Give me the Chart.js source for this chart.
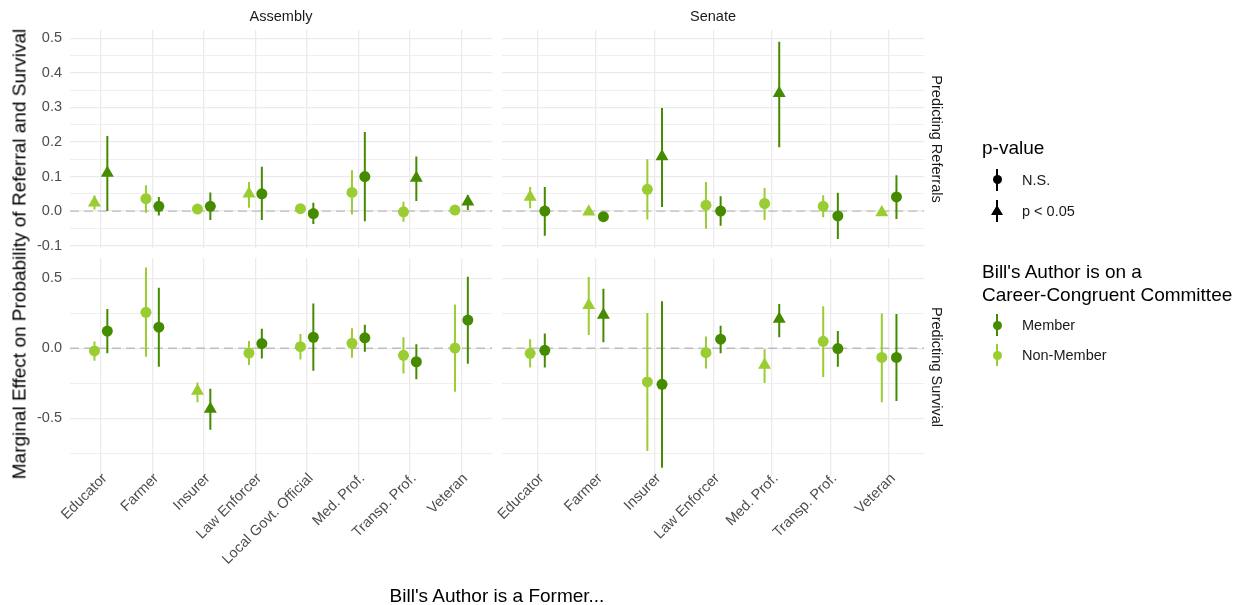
<!DOCTYPE html>
<html>
<head>
<meta charset="utf-8">
<script src="https://cdn.jsdelivr.net/npm/chart.js@4.4.1/dist/chart.umd.min.js"></script>
<style>
  html, body { margin: 0; padding: 0; background: #ffffff; }
  #wrap { position: relative; width: 1233px; height: 605px; overflow: hidden;
          font-family: "Liberation Sans", Arial, sans-serif; }
  #wrap canvas { position: absolute; left: 0; top: 0; }
  .t { position: absolute; white-space: nowrap; line-height: 1; }
  .c { transform: translate(-50%, -50%); }
  .strip { font-size: 14.5px; color: #1a1a1a; }
  .title { font-size: 19px; color: #000000; }
  .lab { font-size: 14.5px; color: #1a1a1a; transform: translateY(-50%); }
  .bar { position: absolute; width: 2px; height: 22px; }
  .dot { position: absolute; width: 9px; height: 9px; border-radius: 50%; }
  .tri { position: absolute; width: 0; height: 0; border-left: 6px solid transparent;
         border-right: 6px solid transparent; }
</style>
</head>
<body>
<div id="wrap">
  <canvas id="asmRef" width="1233" height="605"></canvas>
  <canvas id="senRef" width="1233" height="605"></canvas>
  <canvas id="asmSurv" width="1233" height="605"></canvas>
  <canvas id="senSurv" width="1233" height="605"></canvas>

  <div class="t c strip" style="left:281px;top:16px;">Assembly</div>
  <div class="t c strip" style="left:713px;top:16px;">Senate</div>
  <div class="t strip" style="left:937px;top:139px;transform:translate(-50%,-50%) rotate(90deg);">Predicting Referrals</div>
  <div class="t strip" style="left:937px;top:367px;transform:translate(-50%,-50%) rotate(90deg);">Predicting Survival</div>

  <div class="t title" style="left:19px;top:254px;transform:translate(-50%,-50%) rotate(-90deg);">Marginal Effect on Probability of Referral and Survival</div>
  <div class="t c title" style="left:497px;top:595px;">Bill's Author is a Former...</div>

  <div id="legend"></div>
</div>

<script>
// ---- categories ----
const assemblyJobs = ['Educator', 'Farmer', 'Insurer', 'Law Enforcer', 'Local Govt. Official', 'Med. Prof.', 'Transp. Prof.', 'Veteran'];
const senateJobs   = ['Educator', 'Farmer', 'Insurer', 'Law Enforcer', 'Med. Prof.', 'Transp. Prof.', 'Veteran'];

// ---- y tick labels ----
const referralTicks = [-0.1, 0.0, 0.1, 0.2, 0.3, 0.4, 0.5];
const survivalTicks = [-0.5, 0.0, 0.5];

// ---- Assembly, predicting referrals ----
const asmRefMemEst = [0.110, 0.014, 0.014, 0.050, -0.007, 0.100, 0.096, 0.027];
const asmRefMemLo  = [0.000, -0.013, -0.026, -0.026, -0.037, -0.029, 0.029, 0.003];
const asmRefMemHi  = [0.217, 0.041, 0.054, 0.128, 0.024, 0.229, 0.158, 0.046];
const asmRefMemSig = [1, 0, 0, 0, 0, 0, 1, 1];
const asmRefNonEst = [0.024, 0.036, 0.006, 0.050, 0.007, 0.054, -0.002, 0.003];
const asmRefNonLo  = [0.005, -0.005, -0.008, 0.010, -0.003, -0.010, -0.031, -0.004];
const asmRefNonHi  = [0.045, 0.075, 0.020, 0.084, 0.017, 0.118, 0.027, 0.010];
const asmRefNonSig = [1, 0, 0, 1, 0, 0, 0, 0];

// ---- Senate, predicting referrals ----
const senRefMemEst = [0.000, -0.016, 0.158, 0.000, 0.341, -0.014, 0.041];
const senRefMemLo  = [-0.071, -0.020, 0.012, -0.042, 0.185, -0.081, -0.023];
const senRefMemHi  = [0.070, -0.012, 0.298, 0.043, 0.490, 0.053, 0.104];
const senRefMemSig = [0, 0, 1, 0, 1, 0, 0];
const senRefNonEst = [0.041, -0.002, 0.063, 0.017, 0.022, 0.014, -0.004];
const senRefNonLo  = [0.008, -0.004, -0.024, -0.051, -0.026, -0.018, -0.007];
const senRefNonHi  = [0.070, 0.000, 0.150, 0.084, 0.067, 0.046, -0.001];
const senRefNonSig = [1, 1, 0, 0, 0, 0, 1];

// ---- Assembly, predicting survival ----
const asmSurvMemEst = [0.123, 0.151, -0.433, 0.034, 0.079, 0.075, -0.096, 0.202];
const asmSurvMemLo  = [-0.036, -0.132, -0.582, -0.072, -0.161, -0.024, -0.221, -0.111];
const asmSurvMemHi  = [0.281, 0.433, -0.288, 0.139, 0.320, 0.168, 0.029, 0.512];
const asmSurvMemSig = [0, 0, 1, 0, 0, 0, 0, 0];
const asmSurvNonEst = [-0.019, 0.257, -0.305, -0.034, 0.012, 0.036, -0.050, 0.002];
const asmSurvNonLo  = [-0.089, -0.060, -0.385, -0.120, -0.079, -0.067, -0.180, -0.310];
const asmSurvNonHi  = [0.048, 0.577, -0.245, 0.053, 0.103, 0.144, 0.079, 0.313];
const asmSurvNonSig = [0, 0, 1, 0, 0, 0, 0, 0];

// ---- Senate, predicting survival ----
const senSurvMemEst = [-0.014, 0.238, -0.257, 0.065, 0.209, -0.002, -0.065];
const senSurvMemLo  = [-0.137, 0.043, -0.853, -0.036, 0.079, -0.132, -0.377];
const senSurvMemHi  = [0.106, 0.425, 0.337, 0.161, 0.317, 0.123, 0.245];
const senSurvMemSig = [0, 1, 0, 0, 1, 0, 0];
const senSurvNonEst = [-0.036, 0.308, -0.240, -0.031, -0.120, 0.050, -0.065];
const senSurvNonLo  = [-0.137, 0.096, -0.733, -0.144, -0.248, -0.204, -0.385];
const senSurvNonHi  = [0.065, 0.510, 0.252, 0.084, -0.007, 0.300, 0.248];
const senSurvNonSig = [0, 1, 0, 0, 1, 0, 0];

// ---- styling ----
const MEMBER = '#458b00';
const NONMEMBER = '#9acd32';
const GRID = '#ebebeb';
const FONT = '"Liberation Sans", Arial, sans-serif';
const W = 1233, H = 605;
const DODGE = 0.125;

// panel rectangles in page pixels
const COLS = { asm: [70, 492.3], sen: [502.3, 924.3] };
const ROWS = { ref: [30, 248.3], surv: [258.3, 476] };
const RANGES = { ref: [-0.1076, 0.524], surv: [-0.912, 0.643] };

// pointrange whiskers + dashed zero reference, drawn beneath the markers
const pointRange = {
  id: 'pointRange',
  beforeDatasetsDraw(chart) {
    const { ctx, chartArea: a, scales: { x, y } } = chart;
    ctx.save();
    ctx.beginPath();
    ctx.rect(a.left, a.top, a.right - a.left, a.bottom - a.top);
    ctx.clip();
    const y0 = y.getPixelForValue(0);
    ctx.beginPath();
    ctx.setLineDash([9, 5]);
    ctx.strokeStyle = '#bebebe';
    ctx.lineWidth = 1.4;
    ctx.moveTo(a.left, y0);
    ctx.lineTo(a.right, y0);
    ctx.stroke();
    ctx.setLineDash([]);
    chart.data.datasets.forEach(ds => {
      ctx.strokeStyle = ds.backgroundColor;
      ctx.lineWidth = 2;
      ds.data.forEach((p, i) => {
        const px = x.getPixelForValue(p.x);
        ctx.beginPath();
        ctx.moveTo(px, y.getPixelForValue(ds.lo[i]));
        ctx.lineTo(px, y.getPixelForValue(ds.hi[i]));
        ctx.stroke();
      });
    });
    ctx.restore();
  }
};

function withMinor(major, lo, hi) {
  const step = major[1] - major[0];
  const all = major.slice();
  for (let v = major[0] - step / 2; v <= major[major.length - 1] + step; v += step) {
    if (v > lo && v < hi) all.push(+v.toFixed(4));
  }
  return all.sort((p, q) => p - q);
}

function panel(id, col, row, cats, majorTicks, groups, showY, showX) {
  const [left, right] = COLS[col];
  const [top, bottom] = ROWS[row];
  const [ymin, ymax] = RANGES[row];
  const allTicks = withMinor(majorTicks, ymin, ymax);
  const isMajor = v => majorTicks.some(m => Math.abs(m - v) < 1e-6);

  const datasets = groups.map(g => ({
    label: g.name,
    data: g.est.map((v, i) => ({ x: i + 1 + g.shift, y: v })),
    lo: g.lo,
    hi: g.hi,
    backgroundColor: g.color,
    borderColor: g.color,
    borderWidth: 0,
    pointStyle: c => g.sig[c.dataIndex] ? 'triangle' : 'circle',
    pointRadius: c => g.sig[c.dataIndex] ? 7.5 : 5.5,
    pointHoverRadius: c => g.sig[c.dataIndex] ? 7.5 : 5.5,
    showLine: false
  }));

  return new Chart(document.getElementById(id), {
    type: 'scatter',
    data: { datasets },
    plugins: [pointRange],
    options: {
      responsive: false,
      animation: false,
      devicePixelRatio: 1,
      events: [],
      layout: {
        padding: {
          left: showY ? 0 : left,
          right: W - right,
          top: top,
          bottom: showX ? 0 : H - bottom
        }
      },
      plugins: { legend: { display: false }, tooltip: { enabled: false } },
      scales: {
        x: {
          type: 'linear',
          min: 0.4,
          max: cats.length + 0.6,
          afterBuildTicks: s => { s.ticks = cats.map((c, i) => ({ value: i + 1 })); },
          afterFit: s => {
            s.height = showX ? H - bottom : 0;
            // let the slanted category names sit snug against the panel edge
            s._computeLabelArea = () => undefined;
          },
          border: { display: false },
          grid: { color: GRID, lineWidth: 1.3, drawTicks: false },
          ticks: {
            display: showX,
            autoSkip: false,
            minRotation: 45,
            maxRotation: 45,
            padding: -6,
            labelOffset: 4,
            color: '#4d4d4d',
            font: { family: FONT, size: 14.5 },
            callback: v => cats[Math.round(v) - 1]
          }
        },
        y: {
          type: 'linear',
          min: ymin,
          max: ymax,
          afterBuildTicks: s => { s.ticks = allTicks.map(v => ({ value: v })); },
          afterFit: s => { s.width = showY ? left : 0; },
          border: { display: false },
          grid: {
            color: GRID,
            drawTicks: false,
            lineWidth: c => (c.tick && isMajor(c.tick.value)) ? 1.3 : 0.8
          },
          ticks: {
            display: showY,
            autoSkip: false,
            padding: 8,
            color: '#4d4d4d',
            font: { family: FONT, size: 14.5 },
            callback: v => isMajor(v) ? v.toFixed(1) : ''
          }
        }
      }
    }
  });
}

function groupsOf(memEst, memLo, memHi, memSig, nonEst, nonLo, nonHi, nonSig) {
  return [
    { name: 'Non-Member', color: NONMEMBER, shift: -DODGE, est: nonEst, lo: nonLo, hi: nonHi, sig: nonSig },
    { name: 'Member', color: MEMBER, shift: DODGE, est: memEst, lo: memLo, hi: memHi, sig: memSig }
  ];
}

panel('asmRef', 'asm', 'ref', assemblyJobs, referralTicks,
  groupsOf(asmRefMemEst, asmRefMemLo, asmRefMemHi, asmRefMemSig, asmRefNonEst, asmRefNonLo, asmRefNonHi, asmRefNonSig), true, false);
panel('senRef', 'sen', 'ref', senateJobs, referralTicks,
  groupsOf(senRefMemEst, senRefMemLo, senRefMemHi, senRefMemSig, senRefNonEst, senRefNonLo, senRefNonHi, senRefNonSig), false, false);
panel('asmSurv', 'asm', 'surv', assemblyJobs, survivalTicks,
  groupsOf(asmSurvMemEst, asmSurvMemLo, asmSurvMemHi, asmSurvMemSig, asmSurvNonEst, asmSurvNonLo, asmSurvNonHi, asmSurvNonSig), true, true);
panel('senSurv', 'sen', 'surv', senateJobs, survivalTicks,
  groupsOf(senSurvMemEst, senSurvMemLo, senSurvMemHi, senSurvMemSig, senSurvNonEst, senSurvNonLo, senSurvNonHi, senSurvNonSig), false, true);

// ---- legends ----
const legend = document.getElementById('legend');
function add(html) { legend.insertAdjacentHTML('beforeend', html); }
function glyph(cx, cy, color, shape) {
  add(`<div class="bar" style="left:${cx - 1}px;top:${cy - 11}px;background:${color};"></div>`);
  if (shape === 'triangle') {
    add(`<div class="tri" style="left:${cx - 6}px;top:${cy - 5.5}px;border-bottom:10px solid ${color};"></div>`);
  } else {
    add(`<div class="dot" style="left:${cx - 4.5}px;top:${cy - 4.5}px;background:${color};"></div>`);
  }
}
const LX = 997, TX = 1022;
add(`<div class="t title" style="left:982px;top:147px;transform:translateY(-50%);">p-value</div>`);
glyph(LX, 179.5, '#000000', 'circle');
add(`<div class="t lab" style="left:${TX}px;top:179.5px;">N.S.</div>`);
glyph(LX, 210.5, '#000000', 'triangle');
add(`<div class="t lab" style="left:${TX}px;top:210.5px;">p &lt; 0.05</div>`);

add(`<div class="t title" style="left:982px;top:271px;transform:translateY(-50%);">Bill's Author is on a</div>`);
add(`<div class="t title" style="left:982px;top:294px;transform:translateY(-50%);">Career-Congruent Committee</div>`);
glyph(LX, 325, MEMBER, 'circle');
add(`<div class="t lab" style="left:${TX}px;top:325px;">Member</div>`);
glyph(LX, 355, NONMEMBER, 'circle');
add(`<div class="t lab" style="left:${TX}px;top:355px;">Non-Member</div>`);
</script>
</body>
</html>
